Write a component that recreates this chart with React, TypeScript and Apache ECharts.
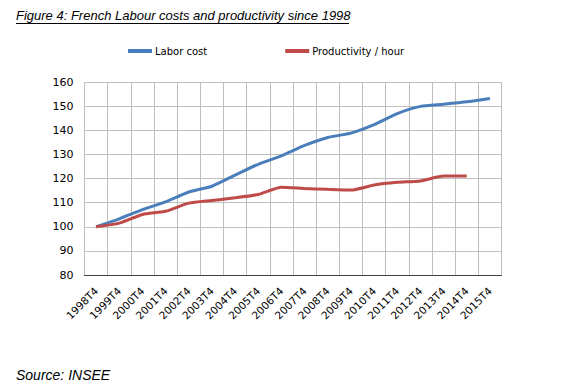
import React, { useEffect, useRef } from "react";
import * as echarts from "echarts";

const categories = [
  "1998T4", "1999T4", "2000T4", "2001T4", "2002T4", "2003T4", "2004T4", "2005T4", "2006T4",
  "2007T4", "2008T4", "2009T4", "2010T4", "2011T4", "2012T4", "2013T4", "2014T4", "2015T4",
];
const laborCost = [100, 103.3, 107.1, 110.3, 114.4, 116.8, 121.4, 125.9, 129.4, 133.7, 137, 138.8, 142.3, 146.9, 149.9, 150.8, 151.8, 153.2];
const productivity = [100, 101.5, 105.1, 106.4, 109.8, 110.9, 112, 113.4, 116.4, 115.9, 115.5, 115.2, 117.3, 118.4, 119, 121, 121, null];
const titleText = "Figure 4: French Labour costs and productivity since 1998";
const sourceText = "Source: INSEE";

export default function App() {
  const ref = useRef<HTMLDivElement>(null);
  useEffect(() => {
    if (!ref.current) return;
    const chart = echarts.init(ref.current, null, { renderer: "svg" });
    const font = "DejaVu Sans";
    chart.setOption({
      animation: false,
      backgroundColor: "#ffffff",
      title: {
        text: titleText,
        left: 16,
        top: 9,
        padding: 0,
        textStyle: { fontFamily: "Liberation Sans", fontSize: 13, fontStyle: "italic", fontWeight: "normal", color: "#000" },
      },
      graphic: [
        { type: "line", shape: { x1: 16, y1: 23.5, x2: 349, y2: 23.5 }, style: { stroke: "#000", lineWidth: 1 } },
        {
          type: "text", x: 16, y: 368,
          style: { text: sourceText, fontFamily: "Liberation Sans", fontSize: 14, fontStyle: "italic", fill: "#000" },
        },
      ],
      legend: {
        left: 128,
        top: 46,
        padding: 0,
        itemWidth: 24,
        itemHeight: 4,
        itemGap: 78,
        icon: "rect",
        textStyle: { fontFamily: font, fontSize: 10, color: "#000", padding: [0, 0, 0, -2] },
        data: ["Labor cost", "Productivity / hour"],
      },
      grid: { left: 84.5, right: 66.5, top: 82, bottom: 113 },
      xAxis: {
        type: "category",
        data: categories,
        boundaryGap: true,
        axisLine: { lineStyle: { color: "#404040", width: 1 } },
        axisTick: { show: false },
        splitLine: { show: true, interval: 0, lineStyle: { color: "#bfbfbf", width: 1 } },
        axisLabel: { interval: 0, rotate: 45, margin: 14, fontFamily: font, fontSize: 10.5, color: "#000" },
      },
      yAxis: {
        type: "value",
        min: 80,
        max: 160,
        interval: 10,
        axisLine: { show: false },
        axisTick: { show: false },
        splitLine: { lineStyle: { color: "#bfbfbf", width: 1 } },
        axisLabel: { margin: 11, fontFamily: font, fontSize: 11, color: "#000" },
      },
      series: [
        {
          name: "Labor cost", type: "line", data: laborCost, smooth: 0.2, symbol: "none",
          lineStyle: { color: "#4a7ebb", width: 3 }, itemStyle: { color: "#4a7ebb" },
        },
        {
          name: "Productivity / hour", type: "line", data: productivity, smooth: 0.2, symbol: "none",
          lineStyle: { color: "#be4b48", width: 3 }, itemStyle: { color: "#be4b48" },
        },
      ],
    });
    return () => chart.dispose();
  }, []);
  return <div ref={ref} style={{ position: "fixed", left: 0, top: 0, width: 568, height: 388 }} />;
}
